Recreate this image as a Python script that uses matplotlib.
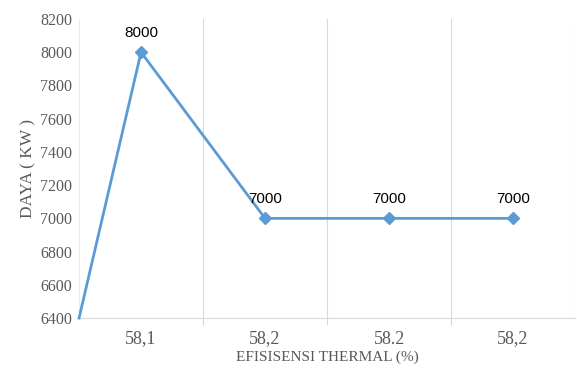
import matplotlib
matplotlib.use("Agg")
import matplotlib.pyplot as plt
import numpy as np

categories = ["58,1", "58,2", "58.2", "58,2"]
values = [8000, 7000, 7000, 7000]
start_value = 6400
yticks = [6400, 6600, 6800, 7000, 7200, 7400, 7600, 7800, 8000, 8200]

fig = plt.figure(figsize=(5.77, 3.72), dpi=100)
ax = fig.add_axes([0.137, 0.145, 0.8595, 0.804])

x = np.arange(len(categories))
line_color = "#5B9BD5"
ax.plot(np.concatenate([[-0.5], x]), [start_value] + values, color=line_color, lw=2, zorder=3, clip_on=False)
ax.plot(x, values, linestyle="none", marker="D", ms=6, color=line_color, zorder=4)

for xi, v in zip(x, values):
    ax.annotate(f"{v}", (xi, v), xytext=(0, 9), textcoords="offset points",
                ha="center", va="bottom", fontsize=11, family="Liberation Sans", color="#000000")

ax.set_xlim(-0.5, len(categories) - 0.5)
ax.set_ylim(6400, 8200)
ax.set_yticks(yticks)
ax.set_yticklabels([str(t) for t in yticks], family="Liberation Serif", fontsize=11.5, color="#595959")
ax.set_xticks(x)
ax.set_xticklabels(categories, family="Liberation Serif", fontsize=13, color="#595959")
ax.tick_params(axis="x", length=0, pad=9)
ax.tick_params(axis="y", length=0, pad=5)

ax.set_xticks(np.arange(0.5, len(categories) - 0.5, 1), minor=True)
ax.tick_params(axis="x", which="minor", length=5, color="#D9D9D9", width=0.8)
for b in np.arange(0.5, len(categories) + 0.5, 1):
    ax.axvline(b, color="#D9D9D9", lw=0.8, zorder=1)

for s in ["top", "right"]:
    ax.spines[s].set_visible(False)
ax.spines["left"].set_color("#EDEDED")
ax.spines["bottom"].set_color("#D9D9D9")
ax.spines["left"].set_linewidth(0.8)
ax.spines["bottom"].set_linewidth(0.8)

ax.set_xlabel("EFISISENSI THERMAL (%)", family="Liberation Serif", fontsize=11, color="#595959", labelpad=2)
ax.set_ylabel("DAYA ( KW )", family="Liberation Serif", fontsize=12.5, color="#595959", labelpad=3)

fig.savefig("out.png", dpi=100)
